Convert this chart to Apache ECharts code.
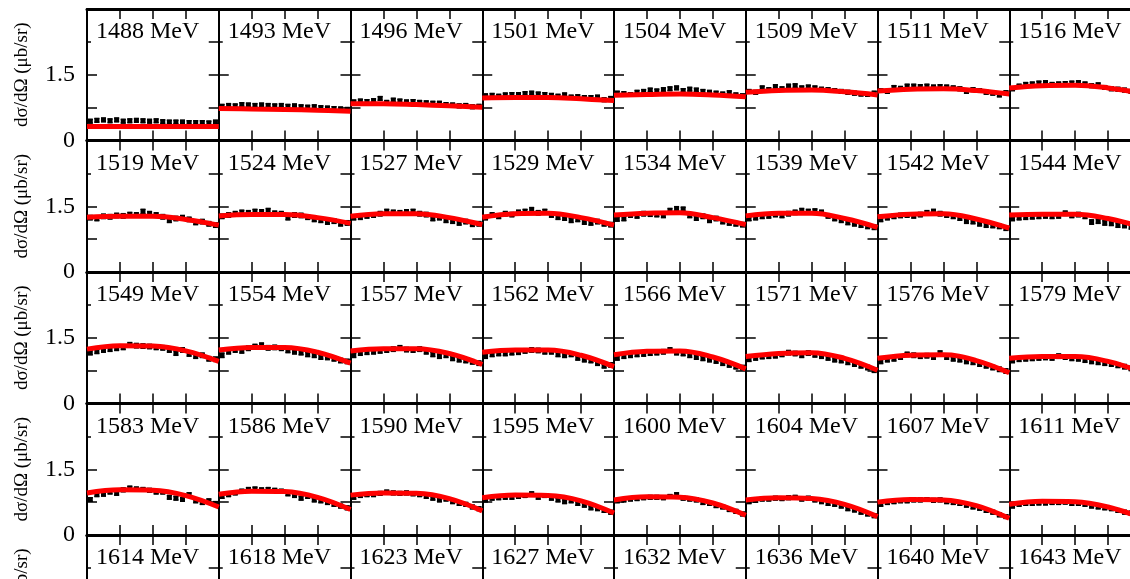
<!DOCTYPE html>
<html>
<head>
<meta charset="utf-8">
<script src="https://cdn.jsdelivr.net/npm/echarts@6/dist/echarts.min.js"></script>
<style>
html,body{margin:0;padding:0;background:#fff;overflow:hidden;width:1130px;height:579px;}
#chart{width:1150px;height:700px;}
</style>
</head>
<body>
<div id="chart"></div>
<script>
// ---- data ----
const ENERGY_LABELS = [
  '1488 MeV','1493 MeV','1496 MeV','1501 MeV','1504 MeV','1509 MeV','1511 MeV','1516 MeV',
  '1519 MeV','1524 MeV','1527 MeV','1529 MeV','1534 MeV','1539 MeV','1542 MeV','1544 MeV',
  '1549 MeV','1554 MeV','1557 MeV','1562 MeV','1566 MeV','1571 MeV','1576 MeV','1579 MeV',
  '1583 MeV','1586 MeV','1590 MeV','1595 MeV','1600 MeV','1604 MeV','1607 MeV','1611 MeV',
  '1614 MeV','1618 MeV','1623 MeV','1627 MeV','1632 MeV','1636 MeV','1640 MeV','1643 MeV'
];
const Y_TICK_LABELS = ['0', '1.5'];
const Y_TITLE = 'dσ/dΩ (μb/sr)';
const POINT_X = [-0.95,-0.85,-0.75,-0.65,-0.55,-0.45,-0.35,-0.25,-0.15,-0.05,0.05,0.15,0.25,0.35,0.45,0.55,0.65,0.75,0.85,0.95];
const FIT_X = [-1,-0.5,0,0.5,1];

// row 1
const P1488 = [0.44,0.46,0.47,0.45,0.47,0.44,0.45,0.46,0.45,0.44,0.45,0.43,0.42,0.42,0.42,0.41,0.41,0.41,0.40,0.42];
const F1488 = [0.32,0.32,0.32,0.32,0.32];
const P1493 = [0.78,0.80,0.79,0.82,0.81,0.80,0.81,0.80,0.79,0.80,0.78,0.79,0.77,0.76,0.77,0.75,0.74,0.73,0.72,0.71];
const F1493 = [0.73,0.72,0.71,0.69,0.67];
const P1496 = [0.88,0.90,0.89,0.91,0.96,0.87,0.92,0.90,0.88,0.89,0.87,0.86,0.85,0.85,0.82,0.81,0.79,0.80,0.77,0.78];
const F1496 = [0.84,0.84,0.82,0.79,0.76];
const P1501 = [1.02,1.03,1.01,1.04,1.05,1.05,1.07,1.08,1.06,1.05,1.03,1.01,1.04,0.99,1.00,0.98,0.98,0.99,0.93,0.96];
const F1501 = [0.97,0.98,0.98,0.95,0.91];
const P1504 = [1.08,1.07,1.05,1.10,1.12,1.15,1.13,1.16,1.18,1.20,1.14,1.17,1.15,1.12,1.10,1.08,1.06,1.09,1.04,1.02];
const F1504 = [1.03,1.05,1.06,1.04,1.00];
const P1509 = [1.12,1.10,1.20,1.16,1.23,1.18,1.24,1.25,1.20,1.22,1.20,1.17,1.16,1.14,1.12,1.10,1.08,1.06,1.05,1.08];
const F1509 = [1.10,1.14,1.15,1.11,1.04];
const P1511 = [1.14,1.12,1.21,1.19,1.24,1.24,1.23,1.24,1.22,1.23,1.22,1.20,1.18,1.12,1.16,1.14,1.10,1.08,1.04,1.09];
const F1511 = [1.13,1.17,1.18,1.14,1.06];
const P1516 = [1.18,1.24,1.28,1.29,1.31,1.32,1.28,1.29,1.30,1.31,1.32,1.29,1.25,1.27,1.21,1.18,1.17,1.15,1.12,1.10];
const F1516 = [1.20,1.25,1.26,1.20,1.08];
// row 2
const P1519 = [1.24,1.22,1.27,1.26,1.29,1.28,1.31,1.30,1.38,1.33,1.30,1.26,1.18,1.22,1.24,1.20,1.13,1.15,1.10,1.07];
const F1519 = [1.25,1.27,1.27,1.20,1.07];
const P1524 = [1.27,1.30,1.33,1.36,1.35,1.38,1.37,1.40,1.34,1.33,1.24,1.30,1.29,1.25,1.20,1.18,1.14,1.16,1.10,1.12];
const F1524 = [1.28,1.31,1.31,1.24,1.11];
const P1527 = [1.24,1.25,1.28,1.30,1.33,1.38,1.36,1.35,1.37,1.38,1.33,1.31,1.22,1.24,1.18,1.16,1.12,1.15,1.09,1.10];
const F1527 = [1.27,1.33,1.33,1.24,1.08];
const P1529 = [1.24,1.30,1.27,1.33,1.31,1.36,1.38,1.42,1.35,1.38,1.30,1.25,1.23,1.18,1.20,1.14,1.12,1.15,1.10,1.08];
const F1529 = [1.25,1.33,1.34,1.24,1.07];
const P1534 = [1.21,1.22,1.30,1.28,1.33,1.32,1.31,1.29,1.40,1.44,1.43,1.29,1.23,1.27,1.18,1.22,1.15,1.12,1.10,1.08];
const F1534 = [1.30,1.34,1.35,1.24,1.08];
const P1539 = [1.22,1.24,1.27,1.28,1.31,1.29,1.33,1.36,1.40,1.38,1.39,1.36,1.28,1.22,1.18,1.13,1.10,1.07,1.04,1.02];
const F1539 = [1.28,1.34,1.34,1.22,1.02];
const P1542 = [1.20,1.24,1.27,1.29,1.30,1.28,1.31,1.35,1.38,1.33,1.30,1.27,1.23,1.16,1.15,1.10,1.07,1.06,1.04,1.00];
const F1542 = [1.26,1.32,1.33,1.21,1.00];
const P1544 = [1.22,1.24,1.25,1.26,1.27,1.28,1.27,1.28,1.34,1.29,1.31,1.27,1.14,1.16,1.12,1.11,1.07,1.06,1.03,1.00];
const F1544 = [1.30,1.32,1.32,1.22,1.03];
// row 3
const P1549 = [1.16,1.19,1.22,1.24,1.26,1.28,1.34,1.32,1.31,1.30,1.28,1.27,1.22,1.15,1.22,1.13,1.08,1.10,1.02,1.01];
const F1549 = [1.24,1.32,1.31,1.20,0.96];
const P1554 = [1.10,1.18,1.22,1.20,1.26,1.30,1.33,1.27,1.28,1.26,1.21,1.18,1.16,1.12,1.10,1.06,1.05,1.02,0.98,0.96];
const F1554 = [1.22,1.28,1.28,1.17,0.92];
const P1557 = [1.10,1.15,1.17,1.18,1.20,1.22,1.24,1.27,1.23,1.22,1.24,1.18,1.12,1.08,1.10,1.03,1.00,0.98,0.95,0.92];
const F1557 = [1.20,1.25,1.25,1.14,0.89];
const P1562 = [1.08,1.12,1.14,1.14,1.16,1.17,1.20,1.22,1.21,1.18,1.18,1.12,1.10,1.12,1.04,1.00,0.98,0.92,0.86,0.88];
const F1562 = [1.17,1.22,1.22,1.10,0.84];
const P1566 = [1.04,1.08,1.10,1.12,1.13,1.15,1.16,1.18,1.22,1.16,1.14,1.10,1.06,1.03,1.00,0.97,0.92,0.88,0.84,0.82];
const F1566 = [1.11,1.19,1.20,1.06,0.79];
const P1571 = [1.01,1.04,1.07,1.08,1.09,1.12,1.16,1.14,1.10,1.15,1.11,1.08,1.04,1.00,0.98,0.94,0.90,0.86,0.82,0.76];
const F1571 = [1.07,1.14,1.16,1.03,0.76];
const P1576 = [0.96,1.00,1.02,1.06,1.12,1.10,1.08,1.09,1.06,1.15,1.06,1.02,1.00,0.96,0.94,0.90,0.86,0.82,0.78,0.74];
const F1576 = [1.03,1.10,1.11,0.98,0.70];
const P1579 = [0.98,1.01,1.02,1.03,1.04,1.05,1.04,1.08,1.06,1.03,1.02,0.99,0.96,0.94,0.92,0.90,0.87,0.84,0.80,0.78];
const F1579 = [1.03,1.07,1.07,0.96,0.72];
// row 4
const P1583 = [0.81,0.92,0.93,0.98,0.95,1.03,1.07,1.05,1.04,1.02,0.98,0.98,0.86,0.84,0.81,0.92,0.78,0.74,0.78,0.72];
const F1583 = [0.96,1.03,1.02,0.90,0.64];
const P1586 = [0.88,0.92,0.96,1.00,1.04,1.05,1.03,1.04,1.02,1.00,0.94,0.90,0.84,0.88,0.80,0.78,0.74,0.70,0.66,0.62];
const F1586 = [0.93,1.00,0.99,0.86,0.58];
const P1590 = [0.86,0.90,0.92,0.92,0.95,0.98,0.96,0.95,0.96,0.94,0.92,0.88,0.84,0.80,0.82,0.76,0.72,0.70,0.64,0.60];
const F1590 = [0.91,0.96,0.95,0.83,0.55];
const P1595 = [0.80,0.84,0.85,0.86,0.86,0.88,0.90,0.94,0.86,0.90,0.84,0.80,0.76,0.78,0.72,0.68,0.62,0.60,0.56,0.52];
const F1595 = [0.85,0.91,0.90,0.78,0.50];
const P1600 = [0.78,0.80,0.82,0.83,0.85,0.86,0.86,0.85,0.88,0.92,0.84,0.82,0.80,0.74,0.72,0.67,0.64,0.58,0.54,0.48];
const F1600 = [0.80,0.87,0.86,0.73,0.45];
const P1604 = [0.76,0.79,0.82,0.82,0.84,0.83,0.85,0.86,0.82,0.84,0.80,0.76,0.72,0.70,0.66,0.60,0.57,0.52,0.48,0.44];
const F1604 = [0.80,0.85,0.83,0.70,0.42];
const P1607 = [0.70,0.74,0.76,0.78,0.78,0.80,0.80,0.81,0.79,0.80,0.76,0.74,0.72,0.68,0.64,0.61,0.56,0.52,0.46,0.42];
const F1607 = [0.75,0.81,0.80,0.67,0.38];
const P1611 = [0.66,0.70,0.72,0.72,0.73,0.73,0.74,0.74,0.75,0.72,0.72,0.70,0.66,0.64,0.62,0.60,0.56,0.52,0.50,0.46];
const F1611 = [0.70,0.77,0.76,0.64,0.40];

const ERRORS = [
  0.04,0.04,0.04,0.04,0.04,0.04,0.04,0.04,
  0.05,0.05,0.05,0.05,0.05,0.05,0.05,0.05,
  0.05,0.05,0.05,0.05,0.05,0.05,0.05,0.05,
  0.04,0.04,0.04,0.04,0.04,0.04,0.04,0.04
];
const POINTS = [P1488,P1493,P1496,P1501,P1504,P1509,P1511,P1516,
                P1519,P1524,P1527,P1529,P1534,P1539,P1542,P1544,
                P1549,P1554,P1557,P1562,P1566,P1571,P1576,P1579,
                P1583,P1586,P1590,P1595,P1600,P1604,P1607,P1611];
const FITS = [F1488,F1493,F1496,F1501,F1504,F1509,F1511,F1516,
              F1519,F1524,F1527,F1529,F1534,F1539,F1542,F1544,
              F1549,F1554,F1557,F1562,F1566,F1571,F1576,F1579,
              F1583,F1586,F1590,F1595,F1600,F1604,F1607,F1611];

// ---- layout ----
const NCOL = 8, NROW = 5;
const LEFT0 = 87, TOP0 = 9, CW = 131.75, RH = 131.5;
const FONT = '"Liberation Serif", "DejaVu Serif", serif';

const grids = [], xAxes = [], yAxes = [], series = [], graphics = [];
for (let k = 0; k < NCOL * NROW; k++) {
  const c = k % NCOL, r = Math.floor(k / NCOL);
  const left = LEFT0 + c * CW, top = TOP0 + r * RH;
  grids.push({left: left, top: top, width: CW, height: RH, containLabel: false});
  const xBase = {gridIndex: k, type: 'value', min: -1, max: 1, interval: 0.5,
    axisLabel: {show: false}, splitLine: {show: false}};
  xAxes.push(Object.assign({}, xBase, {position: 'bottom',
    axisLine: {show: true, onZero: false, lineStyle: {color: '#000', width: 3}},
    axisTick: {show: true, inside: true, length: 10, lineStyle: {color: '#000', width: 1.5}}}));
  xAxes.push(Object.assign({}, xBase, {position: 'top',
    axisLine: {show: true, onZero: false, lineStyle: {color: '#000', width: 3}},
    axisTick: {show: true, inside: true, length: 15, lineStyle: {color: '#000', width: 1.5}}}));
  const yBase = {gridIndex: k, type: 'value', min: 0, max: 3, interval: 0.75,
    splitLine: {show: false}};
  yAxes.push(Object.assign({}, yBase, {position: 'left',
    axisLine: {show: true, onZero: false, lineStyle: {color: '#000', width: 2}},
    axisTick: {show: true, inside: true, length: 10, lineStyle: {color: '#000', width: 1.5}},
    axisLabel: {show: c === 0, margin: 12, color: '#000', fontSize: 24, fontFamily: FONT,
      formatter: function (v) {
        if (Math.abs(v) < 1e-9) return Y_TICK_LABELS[0];
        if (Math.abs(v - 1.5) < 1e-9) return Y_TICK_LABELS[1];
        return '';
      }}}));
  yAxes.push(Object.assign({}, yBase, {position: 'right',
    axisLine: {show: true, onZero: false, lineStyle: {color: '#000', width: 2}},
    axisTick: {show: true, inside: true, length: 10, lineStyle: {color: '#000', width: 1.5}},
    axisLabel: {show: false}}));

  graphics.push({type: 'text', x: left + 4, y: top + 10, z: 50,
    style: {text: ENERGY_LABELS[k], font: '24px ' + FONT, fill: '#000',
      backgroundColor: '#fff', padding: [1, 3, 1, 5], align: 'left', verticalAlign: 'top'}});

  if (k < POINTS.length) {
    const pts = POINTS[k].map((v, i) => [POINT_X[i], v, ERRORS[k]]);
    series.push({type: 'custom', xAxisIndex: 2 * k, yAxisIndex: 2 * k, z: 2, silent: true,
      data: pts,
      renderItem: function (params, api) {
        const x = api.value(0), y = api.value(1), e = api.value(2);
        const p = api.coord([x, y]);
        const t = api.coord([x, y + e]);
        const b = api.coord([x, y - e]);
        const st = {stroke: '#000', lineWidth: 1.5};
        return {type: 'group', children: [
          {type: 'line', shape: {x1: p[0], y1: t[1], x2: p[0], y2: b[1]}, style: st},
          {type: 'line', shape: {x1: p[0] - 2.5, y1: t[1], x2: p[0] + 2.5, y2: t[1]}, style: st},
          {type: 'line', shape: {x1: p[0] - 2.5, y1: b[1], x2: p[0] + 2.5, y2: b[1]}, style: st},
          {type: 'rect', shape: {x: p[0] - 2.5, y: p[1] - 2.5, width: 5, height: 5}, style: {fill: '#000'}}
        ]};
      }});
    series.push({type: 'line', xAxisIndex: 2 * k, yAxisIndex: 2 * k, z: 3, silent: true,
      data: FITS[k].map((v, i) => [FIT_X[i], v]),
      smooth: 0.4, symbol: 'none',
      lineStyle: {color: '#ff0000', width: 5}});
  }
}
for (let r = 0; r < NROW; r++) {
  graphics.push({type: 'text', x: 22, y: TOP0 + r * RH + RH / 2, rotation: Math.PI / 2, z: 50,
    style: {text: Y_TITLE, font: '19px ' + FONT, fill: '#000', align: 'center', verticalAlign: 'middle'}});
}

const chart = echarts.init(document.getElementById('chart'), null, {renderer: 'canvas'});
chart.setOption({
  animation: false,
  backgroundColor: '#fff',
  grid: grids, xAxis: xAxes, yAxis: yAxes, series: series, graphic: graphics
});
</script>
</body>
</html>
